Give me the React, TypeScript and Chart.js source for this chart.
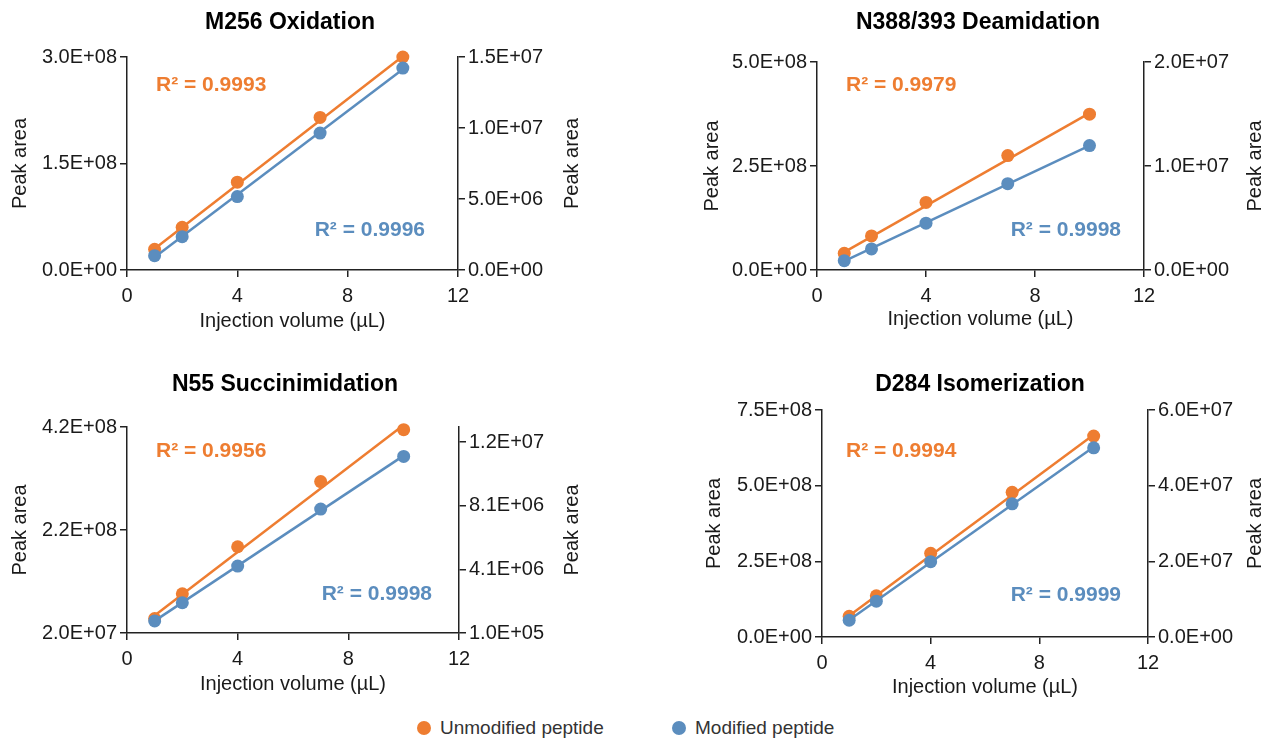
import React, { useEffect, useRef } from 'react';
import { Chart, registerables } from 'chart.js';

Chart.register(...registerables);

const FONT = "'Liberation Sans', Arial, Helvetica, sans-serif";
const ORANGE = '#EE7D31';
const BLUE = '#5B8DBE';
const INK = '#1a1a1a';

// ---- data ----
const injectionVolumes = [1, 2, 4, 7, 10];
const trendX = [1, 10];

// M256 Oxidation
const m256Unmodified = [2.92e7, 6.02e7, 1.237e8, 2.149e8, 3.0e8];
const m256Modified = [1.01e6, 2.35e6, 5.17e6, 9.64e6, 1.422e7];
const m256UnmodifiedFit = [3.0e7, 3.01e8];
const m256ModifiedFit = [0.9e6, 1.413e7];
const m256LeftTicks = [0, 1.5e8, 3.0e8];
const m256RightTicks = [0, 5e6, 1.0e7, 1.5e7];

// N388/393 Deamidation
const n388Unmodified = [4.0e7, 8.2e7, 1.624e8, 2.75e8, 3.746e8];
const n388Modified = [0.9e6, 2.03e6, 4.5e6, 8.3e6, 1.196e7];
const n388UnmodifiedFit = [4.3e7, 3.77e8];
const n388ModifiedFit = [0.85e6, 1.197e7];
const n388LeftTicks = [0, 2.5e8, 5.0e8];
const n388RightTicks = [0, 1.0e7, 2.0e7];

// N55 Succinimidation
const n55Unmodified = [4.8e7, 9.6e7, 1.875e8, 3.14e8, 4.148e8];
const n55Modified = [0.86e6, 2.0e6, 4.31e6, 7.89e6, 1.12e7];
const n55UnmodifiedFit = [5.4e7, 4.24e8];
const n55ModifiedFit = [0.86e6, 1.125e7];
const n55LeftTicks = [2.0e7, 2.2e8, 4.2e8];
const n55RightTicks = [1.0e5, 4.1e6, 8.1e6, 1.21e7];
const n55RightRange = [1.0e5, 1.305e7];

// D284 Isomerization
const d284Unmodified = [6.86e7, 1.36e8, 2.765e8, 4.78e8, 6.64e8];
const d284Modified = [4.42e6, 9.47e6, 1.99e7, 3.52e7, 5.0e7];
const d284UnmodifiedFit = [7.0e7, 6.68e8];
const d284ModifiedFit = [4.5e6, 5.02e7];
const d284LeftTicks = [0, 2.5e8, 5.0e8, 7.5e8];
const d284RightTicks = [0, 2.0e7, 4.0e7, 6.0e7];

const xTicks = [0, 4, 8, 12];
const legendLabels = ['Unmodified peptide', 'Modified peptide'];

function sci(v: number): string {
  const [m, e] = v.toExponential(1).split('e');
  const n = parseInt(e, 10);
  const sign = n < 0 ? '-' : '+';
  return `${m}E${sign}${String(Math.abs(n)).padStart(2, '0')}`;
}

type Panel = {
  title: string;
  box: { x: number; y: number; w: number; h: number };
  area: { l: number; r: number; t: number; b: number };
  titlePos: { x: number; y: number };
  leftTitleX: number;
  rightTitleX: number;
  xTitleY: number;
  unmod: number[];
  mod: number[];
  unmodFit: number[];
  modFit: number[];
  leftTicks: number[];
  rightTicks: number[];
  leftRange: number[];
  rightRange: number[];
  r2Unmod: string;
  r2Mod: string;
  r2UnmodPos: { x: number; y: number };
  r2ModPos: { x: number; y: number };
};

const panels: Panel[] = [
  {
    title: 'M256 Oxidation',
    box: { x: 0, y: 0, w: 633, h: 350 },
    area: { l: 127, r: 458, t: 57, b: 270 },
    titlePos: { x: 290, y: 23 },
    leftTitleX: 20,
    rightTitleX: 572,
    xTitleY: 321,
    unmod: m256Unmodified,
    mod: m256Modified,
    unmodFit: m256UnmodifiedFit,
    modFit: m256ModifiedFit,
    leftTicks: m256LeftTicks,
    rightTicks: m256RightTicks,
    leftRange: [0, 3.0e8],
    rightRange: [0, 1.5e7],
    r2Unmod: '0.9993',
    r2Mod: '0.9996',
    r2UnmodPos: { x: 156, y: 85 },
    r2ModPos: { x: 425, y: 230 },
  },
  {
    title: 'N388/393 Deamidation',
    box: { x: 633, y: 0, w: 633, h: 350 },
    area: { l: 817, r: 1144, t: 62, b: 270 },
    titlePos: { x: 978, y: 23 },
    leftTitleX: 712,
    rightTitleX: 1255,
    xTitleY: 319,
    unmod: n388Unmodified,
    mod: n388Modified,
    unmodFit: n388UnmodifiedFit,
    modFit: n388ModifiedFit,
    leftTicks: n388LeftTicks,
    rightTicks: n388RightTicks,
    leftRange: [0, 5.0e8],
    rightRange: [0, 2.0e7],
    r2Unmod: '0.9979',
    r2Mod: '0.9998',
    r2UnmodPos: { x: 846, y: 85 },
    r2ModPos: { x: 1121, y: 230 },
  },
  {
    title: 'N55 Succinimidation',
    box: { x: 0, y: 350, w: 633, h: 360 },
    area: { l: 127, r: 459, t: 427, b: 633 },
    titlePos: { x: 285, y: 385 },
    leftTitleX: 20,
    rightTitleX: 572,
    xTitleY: 684,
    unmod: n55Unmodified,
    mod: n55Modified,
    unmodFit: n55UnmodifiedFit,
    modFit: n55ModifiedFit,
    leftTicks: n55LeftTicks,
    rightTicks: n55RightTicks,
    leftRange: [2.0e7, 4.2e8],
    rightRange: n55RightRange,
    r2Unmod: '0.9956',
    r2Mod: '0.9998',
    r2UnmodPos: { x: 156, y: 451 },
    r2ModPos: { x: 432, y: 594 },
  },
  {
    title: 'D284 Isomerization',
    box: { x: 633, y: 350, w: 633, h: 360 },
    area: { l: 822, r: 1148, t: 410, b: 637 },
    titlePos: { x: 980, y: 385 },
    leftTitleX: 714,
    rightTitleX: 1255,
    xTitleY: 687,
    unmod: d284Unmodified,
    mod: d284Modified,
    unmodFit: d284UnmodifiedFit,
    modFit: d284ModifiedFit,
    leftTicks: d284LeftTicks,
    rightTicks: d284RightTicks,
    leftRange: [0, 7.5e8],
    rightRange: [0, 6.0e7],
    r2Unmod: '0.9994',
    r2Mod: '0.9999',
    r2UnmodPos: { x: 846, y: 451 },
    r2ModPos: { x: 1121, y: 595 },
  },
];

function PanelChart({ p }: { p: Panel }) {
  const ref = useRef<HTMLCanvasElement | null>(null);
  useEffect(() => {
    if (!ref.current) return;
    const RIGHT_W = 100;
    const leftScaleLeft = p.leftTitleX - 16;
    const leftW = p.area.l - leftScaleLeft;
    const padLeft = leftScaleLeft - p.box.x;
    const padRight = p.box.x + p.box.w - p.area.r - RIGHT_W;
    const padTop = p.area.t - p.box.y;
    const xH = p.xTitleY + 16 - p.area.b;
    const padBottom = p.box.y + p.box.h - (p.xTitleY + 16);

    const pts = (ys: number[]) => injectionVolumes.map((x, i) => ({ x, y: ys[i] }));
    const fit = (ys: number[]) => trendX.map((x, i) => ({ x, y: ys[i] }));

    const textPlugin = {
      id: 'panelText',
      afterDraw(chart: any) {
        const ctx = chart.ctx as CanvasRenderingContext2D;
        const ox = p.box.x;
        const oy = p.box.y;
        ctx.save();
        // title
        ctx.fillStyle = '#000';
        ctx.font = `bold 23px ${FONT}`;
        ctx.textAlign = 'center';
        ctx.textBaseline = 'middle';
        ctx.fillText(p.title, p.titlePos.x - ox, p.titlePos.y - oy);
        // R2 labels
        ctx.font = `bold 21px ${FONT}`;
        ctx.fillStyle = ORANGE;
        ctx.textAlign = 'left';
        ctx.fillText(`R² = ${p.r2Unmod}`, p.r2UnmodPos.x - ox, p.r2UnmodPos.y - oy);
        ctx.fillStyle = BLUE;
        ctx.textAlign = 'right';
        ctx.fillText(`R² = ${p.r2Mod}`, p.r2ModPos.x - ox, p.r2ModPos.y - oy);
        // right axis title
        const ca = chart.chartArea;
        ctx.translate(p.rightTitleX - ox, (ca.top + ca.bottom) / 2);
        ctx.rotate(-Math.PI / 2);
        ctx.font = `20px ${FONT}`;
        ctx.fillStyle = INK;
        ctx.textAlign = 'center';
        ctx.fillText('Peak area', 0, 0);
        ctx.restore();
      },
    };

    const axisCommon = {
      border: { display: true, color: '#222', width: 1.5 },
      grid: { display: true, drawOnChartArea: false, drawTicks: true, tickLength: 7, color: '#222', lineWidth: 1.5 },
    };

    const chart = new Chart(ref.current, {
      type: 'scatter',
      data: {
        datasets: [
          {
            label: legendLabels[1],
            data: pts(p.mod),
            yAxisID: 'yR',
            backgroundColor: BLUE,
            borderColor: BLUE,
            pointRadius: 6.5,
            pointBorderWidth: 0,
            showLine: false,
            clip: false,
          },
          {
            label: legendLabels[1] + ' fit',
            data: fit(p.modFit),
            yAxisID: 'yR',
            borderColor: BLUE,
            borderWidth: 2.5,
            pointRadius: 0,
            showLine: true,
            clip: false,
          },
          {
            label: legendLabels[0],
            data: pts(p.unmod),
            yAxisID: 'yL',
            backgroundColor: ORANGE,
            borderColor: ORANGE,
            pointRadius: 6.5,
            pointBorderWidth: 0,
            showLine: false,
            clip: false,
          },
          {
            label: legendLabels[0] + ' fit',
            data: fit(p.unmodFit),
            yAxisID: 'yL',
            borderColor: ORANGE,
            borderWidth: 2.5,
            pointRadius: 0,
            showLine: true,
            clip: false,
          },
        ] as any,
      },
      options: {
        animation: false,
        responsive: false,
        devicePixelRatio: 1,
        events: [],
        layout: { padding: { left: padLeft, right: padRight, top: padTop, bottom: padBottom } },
        plugins: { legend: { display: false }, tooltip: { enabled: false }, title: { display: false } },
        scales: {
          x: {
            type: 'linear',
            position: 'bottom',
            min: 0,
            max: 12,
            afterBuildTicks: (s: any) => { s.ticks = xTicks.map((v) => ({ value: v })); },
            ticks: { color: INK, font: { size: 20, family: FONT }, padding: 7, maxRotation: 0 },
            title: { display: true, text: 'Injection volume (µL)', color: INK, font: { size: 20, family: FONT } },
            afterFit: (s: any) => { s.height = xH; },
            ...axisCommon,
          },
          yL: {
            type: 'linear',
            position: 'left',
            min: p.leftRange[0],
            max: p.leftRange[1],
            afterBuildTicks: (s: any) => { s.ticks = p.leftTicks.map((v) => ({ value: v })); },
            ticks: { color: INK, font: { size: 20, family: FONT }, padding: 3, callback: (v: any) => sci(Number(v)) },
            title: { display: true, text: 'Peak area', color: INK, font: { size: 20, family: FONT } },
            afterFit: (s: any) => { s.width = leftW; },
            ...axisCommon,
          },
          yR: {
            type: 'linear',
            position: 'right',
            min: p.rightRange[0],
            max: p.rightRange[1],
            afterBuildTicks: (s: any) => { s.ticks = p.rightTicks.map((v) => ({ value: v })); },
            ticks: { color: INK, font: { size: 20, family: FONT }, padding: 3, callback: (v: any) => sci(Number(v)) },
            title: { display: false },
            afterFit: (s: any) => { s.width = RIGHT_W; },
            ...axisCommon,
          },
        },
      } as any,
      plugins: [textPlugin],
    });
    return () => chart.destroy();
  }, [p]);

  return (
    <canvas
      ref={ref}
      width={p.box.w}
      height={p.box.h}
      style={{ position: 'absolute', left: p.box.x, top: p.box.y, width: p.box.w, height: p.box.h }}
    />
  );
}

export default function App() {
  const legendColors = [ORANGE, BLUE];
  const legendX = [424, 679];
  return (
    <div style={{ position: 'absolute', left: 0, top: 0, width: 1266, height: 738, background: '#fff', fontFamily: FONT }}>
      {panels.map((p, i) => (
        <PanelChart key={i} p={p} />
      ))}
      {legendLabels.map((lab, i) => (
        <div key={lab}>
          <div
            style={{
              position: 'absolute',
              left: legendX[i] - 7,
              top: 728 - 7,
              width: 14,
              height: 14,
              borderRadius: 7,
              background: legendColors[i],
            }}
          />
          <div
            style={{
              position: 'absolute',
              left: legendX[i] + 16,
              top: 728 - 12,
              height: 24,
              lineHeight: '24px',
              fontSize: 19,
              color: '#333',
              whiteSpace: 'nowrap',
            }}
          >
            {lab}
          </div>
        </div>
      ))}
    </div>
  );
}
